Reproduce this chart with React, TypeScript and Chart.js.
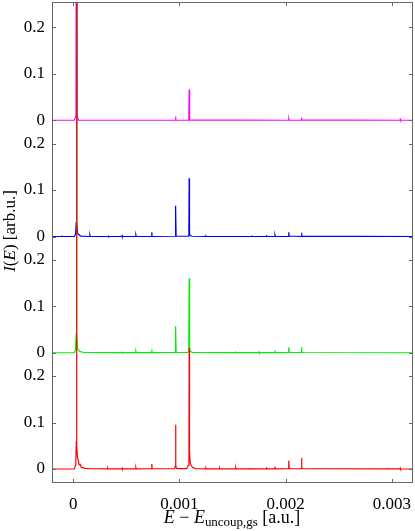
import React, { useEffect, useRef } from "react";
import { Chart, registerables } from "chart.js";

Chart.register(...registerables);

// Energy (a.u.) and intensity (arb.u.) points for each spectrum
const redE = [
  -0.0002, 0.00001, 0.000024, 0.000029, 0.000031, 0.000034, 0.00004, 0.00005, 0.000056, 0.000066, 0.000075, 0.00011, 0.00018,
  0.000322, 0.000325, 0.000328, 0.000457, 0.00046, 0.000463, 0.000587, 0.00059, 0.000593,
  0.000737, 0.00074, 0.000743,
  0.000955, 0.000961, 0.000964, 0.000967, 0.000975,
  0.00107, 0.001083, 0.00109, 0.001092, 0.001095, 0.001101, 0.00111, 0.00112, 0.00115,
  0.001247, 0.00125, 0.001253, 0.001377, 0.00138, 0.001383, 0.001527, 0.00153, 0.001533,
  0.001647, 0.00165, 0.001653, 0.001677, 0.00168, 0.001683, 0.001817, 0.00182, 0.001823,
  0.001897, 0.0019, 0.001903, 0.002026, 0.00203, 0.002034, 0.002042, 0.002146, 0.00215, 0.002154, 0.002162,
  0.002957, 0.00296, 0.002963, 0.003077, 0.00308, 0.003083, 0.0032,
];
const redI = [
  0, 0, 0.01, 0.06, 1.6, 0.05, 0.025, 0.016, 0.009, 0.01, 0.004, 0.0015, 0.0005,
  0.0003, 0.002, 0.0003, 0.0003, 0.002, 0.0003, 0.0003, 0.003, 0.0003,
  0.0005, 0.011, 0.0005,
  0.0005, 0.006, 0.095, 0.006, 0.001,
  0.001, 0.008, 0.04, 0.26, 0.04, 0.014, 0.008, 0.004, 0.001,
  0.0003, 0.002, 0.0003, 0.0003, 0.002, 0.0003, 0.0003, 0.003, 0.0003,
  0.0003, 0.002, 0.0003, 0.0003, 0.002, 0.0003, 0.0003, 0.004, 0.0003,
  0.0003, 0.005, 0.0003, 0.0005, 0.018, 0.002, 0.0005, 0.0005, 0.024, 0.003, 0.0005,
  0.0002, 0.002, 0.0002, 0.0002, 0.002, 0.0002, 0,
];

const greenE = [
  -0.0002, 0.00001, 0.000022, 0.000028, 0.000031, 0.000034, 0.000042, 0.00006, 0.0001,
  0.000457, 0.00046, 0.000463, 0.000587, 0.00059, 0.000593, 0.000737, 0.00074, 0.000743,
  0.000959, 0.000964, 0.000969,
  0.00108, 0.001088, 0.001092, 0.001096, 0.001104, 0.00112,
  0.001527, 0.00153, 0.001533, 0.001747, 0.00175, 0.001753, 0.001897, 0.0019, 0.001903,
  0.002026, 0.00203, 0.002034, 0.002042, 0.002146, 0.00215, 0.002154, 0.002162, 0.0032,
];
const greenI = [
  0, 0, 0.006, 0.04, 1.2, 0.04, 0.008, 0.003, 0.0005,
  0.0002, 0.001, 0.0002, 0.0002, 0.003, 0.0002, 0.0003, 0.007, 0.0003,
  0.0005, 0.057, 0.0005,
  0.0005, 0.006, 0.16, 0.008, 0.003, 0.0005,
  0.0002, 0.001, 0.0002, 0.0002, 0.002, 0.0002, 0.0002, 0.005, 0.0002,
  0.0005, 0.012, 0.002, 0.0005, 0.0005, 0.012, 0.002, 0.0005, 0,
];

const blueE = [
  -0.0002, -0.000113, -0.00011, -0.000107, 0.00001, 0.000022, 0.000028, 0.000031, 0.000034, 0.000042, 0.00007,
  0.000154, 0.000157, 0.00016, 0.000327, 0.00033, 0.000333, 0.000457, 0.00046, 0.000463,
  0.000587, 0.00059, 0.000593, 0.000737, 0.00074, 0.000743,
  0.000959, 0.000964, 0.000969,
  0.001084, 0.001089, 0.001092, 0.001095, 0.001102, 0.00112,
  0.001247, 0.00125, 0.001253, 0.001497, 0.0015, 0.001503, 0.001677, 0.00168, 0.001683,
  0.001817, 0.00182, 0.001823, 0.001897, 0.0019, 0.001903,
  0.002026, 0.00203, 0.002034, 0.002146, 0.00215, 0.002154, 0.0032,
];
const blueI = [
  0, 0, 0.002, 0, 0, 0.005, 0.03, 1.2, 0.03, 0.006, 0.001,
  0, 0.003, 0, 0, 0.001, 0, 0, 0.002, 0,
  0, 0.003, 0, 0, 0.009, 0,
  0.0005, 0.066, 0.0005,
  0.0005, 0.005, 0.125, 0.006, 0.002, 0.0005,
  0, 0.001, 0, 0, 0.001, 0, 0, 0.002, 0,
  0, 0.003, 0, 0, 0.003, 0,
  0, 0.009, 0.001, 0, 0.008, 0.001, 0,
];

const magentaE = [
  -0.0002, 0.00001, 0.000026, 0.000031, 0.000036, 0.00005,
  0.000961, 0.000964, 0.000967,
  0.001088, 0.001092, 0.001096,
  0.002027, 0.00203, 0.002033, 0.002146, 0.00215, 0.002154,
  0.003077, 0.00308, 0.003083, 0.0032,
];
const magentaI = [
  0, 0, 0.01, 1.0, 0.01, 0,
  0, 0.008, 0,
  0, 0.066, 0.001,
  0, 0.003, 0, 0, 0.006, 0.001,
  0, 0.002, 0, 0,
];

// vertical offsets of the stacked spectra
const offsets = [0, 0.25, 0.5, 0.75];
const seriesNames = ["red", "green", "blue", "magenta"];
const seriesColors = ["#ff0000", "#00ee00", "#0000ff", "#ff00ff"];

const xTickValues = [0, 0.001, 0.002, 0.003];
const xTickLabels = ["0", "0.001", "0.002", "0.003"];
const yTickValues = [0, 0.1, 0.2, 0.25, 0.35, 0.45, 0.5, 0.6, 0.7, 0.75, 0.85, 0.95];
const yTickLabels = ["0", "0.1", "0.2", "0", "0.1", "0.2", "0", "0.1", "0.2", "0", "0.1", "0.2"];

const FONT = "'Liberation Serif', 'DejaVu Serif', serif";
const FS = 17;

const framePlugin = {
  id: "frame",
  afterDraw(chart: any) {
    const { ctx, chartArea } = chart;
    const { left, right, top, bottom } = chartArea;
    ctx.save();
    ctx.strokeStyle = "#666666";
    ctx.lineWidth = 1;
    ctx.strokeRect(left + 0.5, top + 0.5, right - left - 1, bottom - top - 1);
    const ys = chart.scales.y;
    const xs = chart.scales.x;
    const tl = 4;
    ctx.beginPath();
    yTickValues.forEach((v) => {
      const p = Math.round(ys.getPixelForValue(v)) + 0.5;
      ctx.moveTo(left, p);
      ctx.lineTo(left + tl, p);
      ctx.moveTo(right, p);
      ctx.lineTo(right - tl, p);
    });
    xTickValues.forEach((v) => {
      const p = Math.round(xs.getPixelForValue(v)) + 0.5;
      ctx.moveTo(p, bottom);
      ctx.lineTo(p, bottom - tl);
      ctx.moveTo(p, top);
      ctx.lineTo(p, top + tl);
    });
    ctx.stroke();

    // axis titles
    ctx.fillStyle = "#000";
    ctx.textBaseline = "alphabetic";
    const fs = 18;
    const parts: [string, string][] = [
      ["E", `italic ${fs}px ${FONT}`],
      [" \u2212 ", `${fs}px ${FONT}`],
      ["E", `italic ${fs}px ${FONT}`],
      ["uncoup,gs", `${fs * 0.72}px ${FONT}`],
      [" [a.u.]", `${fs}px ${FONT}`],
    ];
    let total = 0;
    const widths = parts.map(([t, f]) => {
      ctx.font = f;
      const w = ctx.measureText(t).width;
      total += w;
      return w;
    });
    let x = 232 - total / 2;
    const base = 523;
    parts.forEach(([t, f], i) => {
      ctx.font = f;
      ctx.fillText(t, x, i === 3 ? base + 3 : base);
      x += widths[i];
    });

    const yfs = 17;
    const yparts: [string, string][] = [
      ["I", `italic ${yfs}px ${FONT}`],
      ["(", `${yfs}px ${FONT}`],
      ["E", `italic ${yfs}px ${FONT}`],
      [") [arb.u.]", `${yfs}px ${FONT}`],
    ];
    let ytotal = 0;
    const ywidths = yparts.map(([t, f]) => {
      ctx.font = f;
      const w = ctx.measureText(t).width;
      ytotal += w;
      return w;
    });
    ctx.translate(15, 231);
    ctx.rotate(-Math.PI / 2);
    let yx = -ytotal / 2;
    yparts.forEach(([t, f], i) => {
      ctx.font = f;
      ctx.fillText(t, yx, 0);
      yx += ywidths[i];
    });
    ctx.restore();
  },
};

export default function App() {
  const ref = useRef<HTMLCanvasElement | null>(null);
  useEffect(() => {
    if (!ref.current) return;
    const allE = [redE, greenE, blueE, magentaE];
    const allI = [redI, greenI, blueI, magentaI];
    const datasets = allE.map((es, k) => ({
      label: seriesNames[k],
      data: es.map((e, i) => ({ x: e, y: allI[k][i] + offsets[k] })),
      borderColor: seriesColors[k],
      borderWidth: 1.2,
      pointRadius: 0,
      tension: 0,
      fill: false,
    }));
    const chart = new Chart(ref.current, {
      type: "line",
      data: { datasets },
      plugins: [framePlugin],
      options: {
        animation: false,
        responsive: false,
        maintainAspectRatio: false,
        layout: { padding: { top: 2, right: 2, left: 0, bottom: 0 } },
        plugins: { legend: { display: false }, tooltip: { enabled: false } },
        scales: {
          x: {
            type: "linear",
            min: -0.0002,
            max: 0.0032,
            grid: { display: false, drawTicks: false },
            border: { display: false },
            afterBuildTicks: (s: any) => {
              s.ticks = xTickValues.map((v) => ({ value: v }));
            },
            afterFit: (s: any) => {
              s.height = 48;
              s.paddingLeft = 0;
              s.paddingRight = 0;
              s.paddingTop = 0;
              s.paddingBottom = 0;
            },
            ticks: {
              padding: 11,
              color: "#000",
              font: { family: FONT, size: FS },
              maxRotation: 0,
              callback: (v: any) => {
                const i = xTickValues.findIndex((t) => Math.abs(t - v) < 1e-9);
                return i >= 0 ? xTickLabels[i] : "";
              },
            },
          },
          y: {
            type: "linear",
            min: -0.0301,
            max: 1.0043,
            grid: { display: false, drawTicks: false },
            border: { display: false },
            afterBuildTicks: (s: any) => {
              s.ticks = yTickValues.map((v) => ({ value: v }));
            },
            afterFit: (s: any) => {
              s.width = 52;
              s.paddingLeft = 0;
              s.paddingRight = 0;
              s.paddingTop = 0;
              s.paddingBottom = 0;
            },
            ticks: {
              padding: 7,
              color: "#000",
              font: { family: FONT, size: FS },
              callback: (v: any) => {
                const i = yTickValues.findIndex((t) => Math.abs(t - v) < 1e-9);
                return i >= 0 ? yTickLabels[i] : "";
              },
            },
          },
        },
      },
    });
    return () => chart.destroy();
  }, []);
  return (
    <div style={{ position: "absolute", left: 0, top: 0, width: 415, height: 531, background: "#fff" }}>
      <canvas ref={ref} width={415} height={531} style={{ display: "block" }} />
    </div>
  );
}
